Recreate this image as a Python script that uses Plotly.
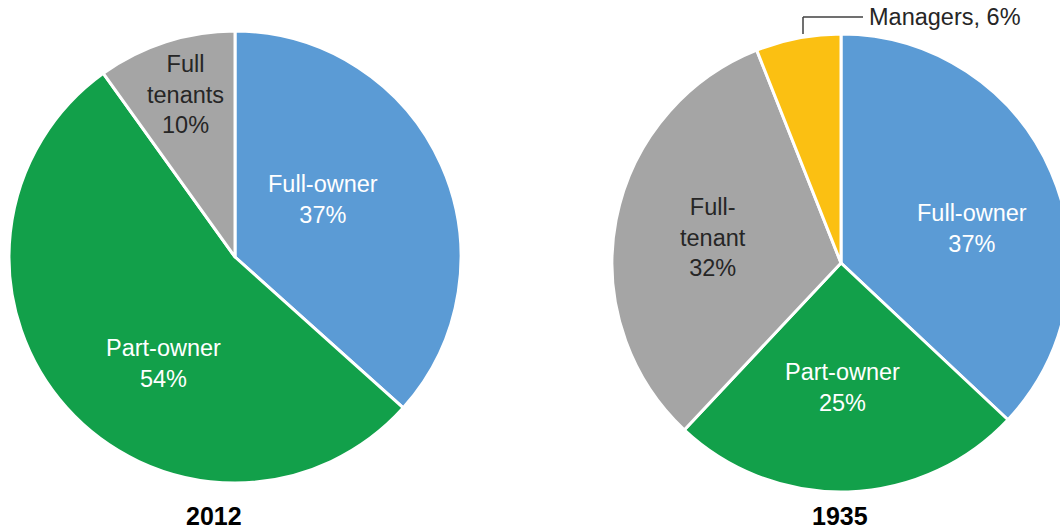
import plotly.graph_objects as go

# ---- data ----
labels_2012 = ["Full-owner", "Part-owner", "Full tenants"]
values_2012 = [37, 54, 10]
text_2012 = ["Full-owner<br>37%", "Part-owner<br>54%", "Full<br>tenants<br>10%"]

labels_1935 = ["Full-owner", "Part-owner", "Full-tenant", "Managers"]
values_1935 = [37, 25, 32, 6]
text_1935 = ["Full-owner<br>37%", "Part-owner<br>25%", "Full-<br>tenant<br>32%", "Managers, 6%"]

titles = ["2012", "1935"]

# ---- style ----
W, H = 1075, 529
BLUE, GREEN, GRAY, YELLOW = "#5B9BD5", "#12A04A", "#A5A5A5", "#FBC012"
colors_2012 = [BLUE, GREEN, GRAY]
colors_1935 = [BLUE, GREEN, GRAY, YELLOW]
FONT = "Liberation Sans, Arial, sans-serif"
FS = 23.5
TFS = 25


def px(x):
    return x / W


def py(y):
    return 1 - y / H


def dom(cx, cy, r):
    return dict(x=[px(cx - r), px(cx + r)], y=[py(cy + r), py(cy - r)])


fig = go.Figure()
fig.add_trace(go.Pie(
    labels=labels_2012, values=values_2012, sort=False, direction="clockwise",
    rotation=0, textinfo="none", hoverinfo="label+percent",
    marker=dict(colors=colors_2012, line=dict(color="white", width=3)),
    domain=dom(235, 257, 226), showlegend=False,
))
fig.add_trace(go.Pie(
    labels=labels_1935, values=values_1935, sort=False, direction="clockwise",
    rotation=0, textinfo="none", hoverinfo="label+percent",
    marker=dict(colors=colors_1935, line=dict(color="white", width=3)),
    domain=dom(841, 263, 229), showlegend=False,
))

# label positions (pixels) and text colours
pos_2012 = [(323, 199), (163, 363), (186, 95)]
col_2012 = ["white", "white", "#262626"]
pos_1935 = [(972, 228), (842, 387), (713, 237)]
col_1935 = ["white", "white", "#262626"]

ann = []
for t, (x, y), c in zip(text_2012, pos_2012, col_2012):
    ann.append(dict(x=px(x), y=py(y), xref="paper", yref="paper", text=t,
                    showarrow=False, font=dict(family=FONT, size=FS, color=c),
                    xanchor="center", yanchor="middle"))
for t, (x, y), c in zip(text_1935[:3], pos_1935, col_1935):
    ann.append(dict(x=px(x), y=py(y), xref="paper", yref="paper", text=t,
                    showarrow=False, font=dict(family=FONT, size=FS, color=c),
                    xanchor="center", yanchor="middle"))
# managers outside label
ann.append(dict(x=px(867), y=py(17), xref="paper", yref="paper", text=text_1935[3],
                showarrow=False, font=dict(family=FONT, size=FS, color="#262626"),
                xanchor="left", yanchor="middle"))
# titles
for t, x in zip(titles, [214, 840]):
    ann.append(dict(x=px(x), y=py(516), xref="paper", yref="paper",
                    text="<b>" + t + "</b>", showarrow=False,
                    font=dict(family=FONT, size=TFS, color="black"),
                    xanchor="center", yanchor="middle"))

shapes = [
    dict(type="line", xref="paper", yref="paper", x0=px(803), y0=py(34), x1=px(803), y1=py(17),
         line=dict(color="#404040", width=1.5)),
    dict(type="line", xref="paper", yref="paper", x0=px(803), y0=py(17), x1=px(863), y1=py(17),
         line=dict(color="#404040", width=1.5)),
]

fig.update_layout(
    width=W, height=H, margin=dict(l=0, r=0, t=0, b=0),
    paper_bgcolor="white", plot_bgcolor="white",
    annotations=ann, shapes=shapes,
    font=dict(family=FONT),
)

fig.write_html("out.html", config={"displayModeBar": False},
               post_script="document.body.style.margin='0';document.body.style.overflow='hidden';document.documentElement.style.overflow='hidden';")
